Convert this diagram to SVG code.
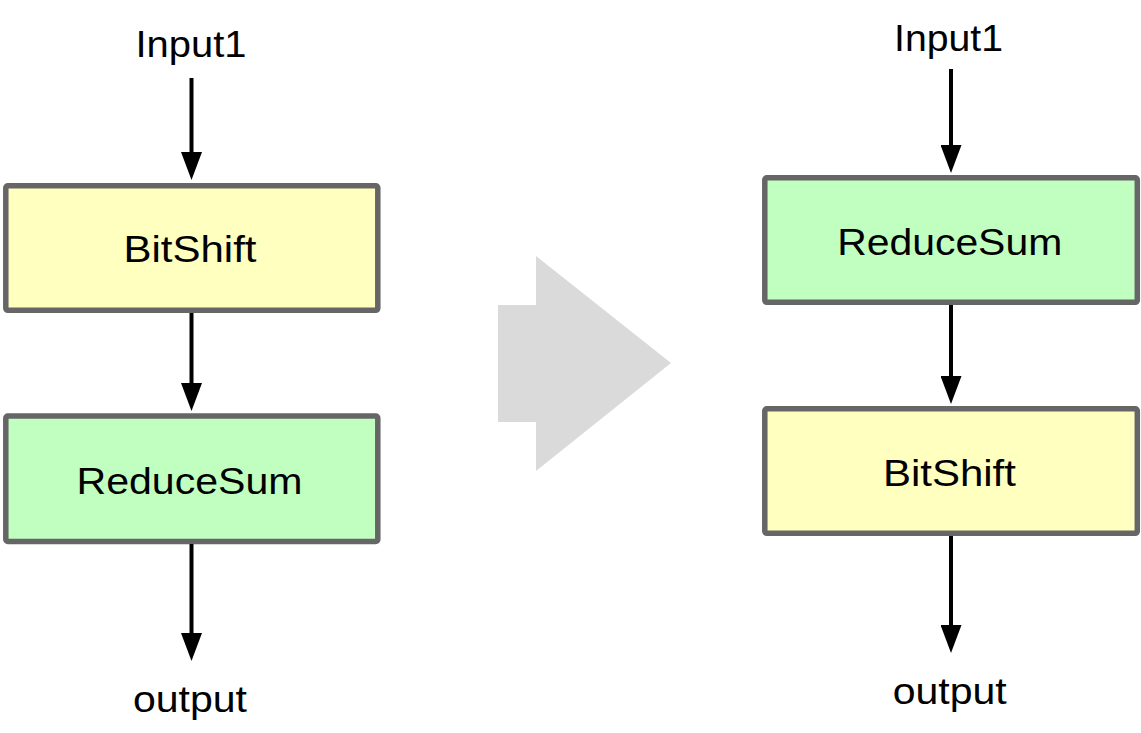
<svg xmlns="http://www.w3.org/2000/svg" width="1141" height="733" viewBox="0 0 1141 733">
  <style>
    .box { stroke: #666666; stroke-width: 5.5; }
    .yellow { fill: #FFFFC0; }
    .green { fill: #C0FFC0; }
    .lbl { font-family: "Liberation Sans", Arial, Helvetica, sans-serif; font-size: 37px; fill: #000000; text-anchor: middle; }
    .edge { stroke: #000000; stroke-width: 4; fill: none; marker-end: url(#arrow); }
  </style>
  <defs>
    <marker id="arrow" markerUnits="userSpaceOnUse" viewBox="0 0 28 21" markerWidth="28" markerHeight="21" refX="1" refY="10.5" orient="auto">
      <path d="M0,0 L28,10.5 L0,21 Z" fill="#000000"/>
    </marker>
  </defs>
  <rect width="1141" height="733" fill="#FFFFFF"/>

  <g id="transform-arrow">
    <polygon points="498,305 536,305 536,256 671,363 536,471 536,422 498,422" fill="#DADADA"/>
  </g>

  <g id="left-input">
    <text class="lbl" x="191" y="57" textLength="111" lengthAdjust="spacingAndGlyphs">Input1</text>
  </g>
  <g id="left-bitshift">
    <rect class="box yellow" x="5.8" y="185.8" width="372" height="124.5" rx="2"/>
    <text class="lbl" x="190" y="262" textLength="133" lengthAdjust="spacingAndGlyphs">BitShift</text>
  </g>
  <g id="left-reducesum">
    <rect class="box green" x="5.8" y="416" width="372" height="125.5" rx="2"/>
    <text class="lbl" x="189.5" y="493.5" textLength="226" lengthAdjust="spacingAndGlyphs">ReduceSum</text>
  </g>
  <g id="left-output">
    <text class="lbl" x="190" y="712" textLength="114" lengthAdjust="spacingAndGlyphs">output</text>
  </g>

  <g id="right-input">
    <text class="lbl" x="948.5" y="51" textLength="109" lengthAdjust="spacingAndGlyphs">Input1</text>
  </g>
  <g id="right-reducesum">
    <rect class="box green" x="764.8" y="177.8" width="372.5" height="124.5" rx="2"/>
    <text class="lbl" x="949.7" y="254.5" textLength="225" lengthAdjust="spacingAndGlyphs">ReduceSum</text>
  </g>
  <g id="right-bitshift">
    <rect class="box yellow" x="764.8" y="408.8" width="372.5" height="124.5" rx="2"/>
    <text class="lbl" x="949.4" y="486" textLength="133" lengthAdjust="spacingAndGlyphs">BitShift</text>
  </g>
  <g id="right-output">
    <text class="lbl" x="949.7" y="703.5" textLength="114" lengthAdjust="spacingAndGlyphs">output</text>
  </g>

  <g id="connectors">
    <line class="edge" x1="191.5" y1="78" x2="191.5" y2="153"/>
    <line class="edge" x1="191.5" y1="313" x2="191.5" y2="384"/>
    <line class="edge" x1="191.5" y1="544" x2="191.5" y2="634"/>
    <line class="edge" x1="951" y1="69" x2="951" y2="146"/>
    <line class="edge" x1="951" y1="305" x2="951" y2="377"/>
    <line class="edge" x1="951" y1="536" x2="951" y2="626"/>
  </g>
</svg>
